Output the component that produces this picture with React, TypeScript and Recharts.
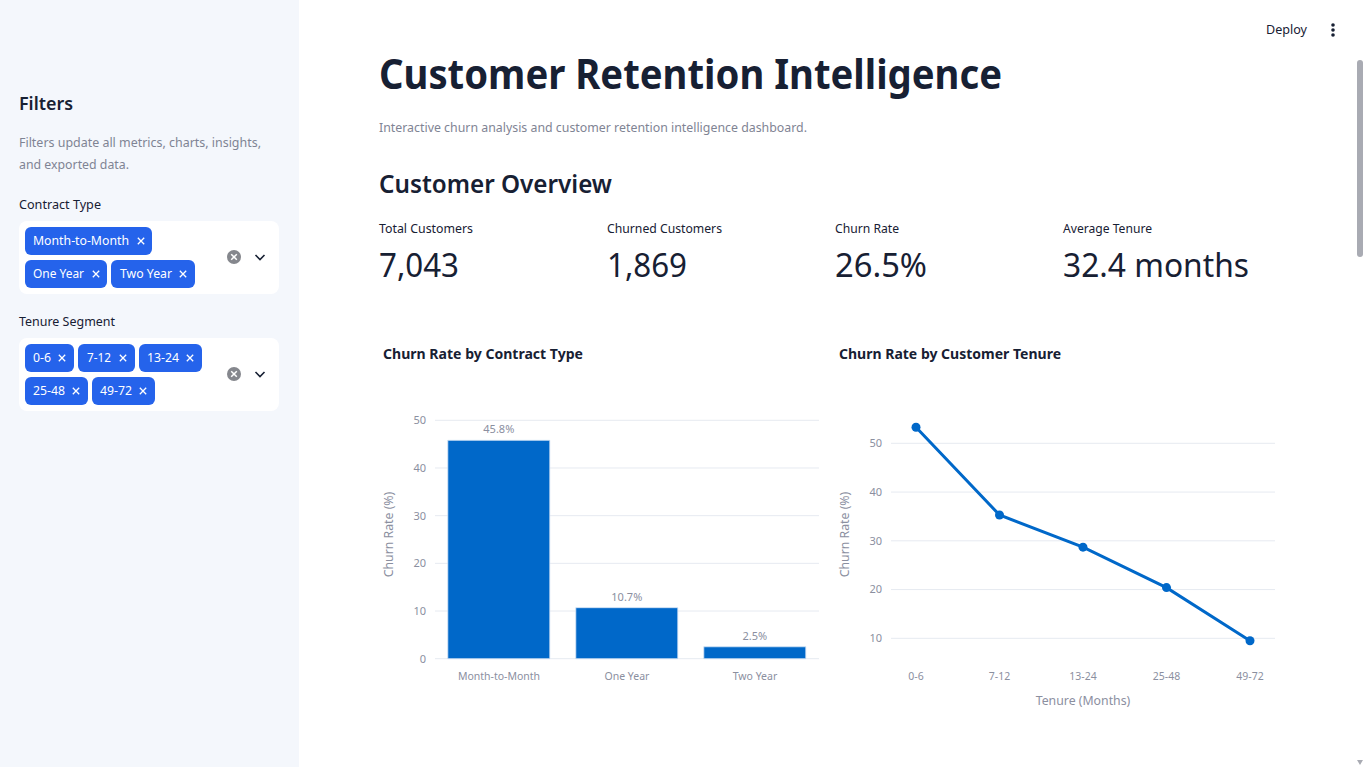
import React from "react";
import { BarChart, Bar, LineChart, Line, XAxis, YAxis, CartesianGrid, LabelList, Label } from "recharts";

const contractTypes = ["Month-to-Month", "One Year", "Two Year"];
const contractChurn = [45.8, 10.7, 2.5];
const contractTicks = [0, 10, 20, 30, 40, 50];
const tenureSegments = ["0-6", "7-12", "13-24", "25-48", "49-72"];
const tenureChurn = [53.3, 35.3, 28.7, 20.4, 9.5];
const tenureTicks = [10, 20, 30, 40, 50];

const contractData = contractTypes.map((name, i) => ({ name, churn: contractChurn[i] }));
const tenureData = tenureSegments.map((name, i) => ({ name, churn: tenureChurn[i] }));

const FONT = '"Noto Sans", sans-serif';
const DARK = "#172033";
const MUTED = "#7f8494";
const AXIS = "#8b8f9f";
const GRID = "#e6eaf1";
const BLUE = "#0068c9";
const TAG = "#2563eb";

type TP = { x: number; y: number; w?: number; s: number; b?: number; c?: string; a?: string; children: string };
const T = ({ x, y, w, s, b = 400, c = DARK, a, children }: TP) => (
  <text
    x={x}
    y={y}
    fontSize={s}
    fontWeight={b}
    fill={c}
    textAnchor={a as any}
    {...(w ? { textLength: w, lengthAdjust: "spacingAndGlyphs" } : {})}
  >
    {children}
  </text>
);

const Tag = ({ x, y, w, tx, tw, cx, label }: { x: number; y: number; w: number; tx: number; tw: number; cx: number; label: string }) => (
  <g>
    <rect x={x} y={y} width={w} height={28} rx={6} fill={TAG} />
    <T x={tx} y={y + 18} w={tw} s={13} c="#ffffff">{label}</T>
    <path d={`M${cx - 3.2} ${y + 10.8}l6.4 6.4M${cx + 3.2} ${y + 10.8}l-6.4 6.4`} stroke="#fff" strokeWidth={1.3} fill="none" />
  </g>
);

const Controls = ({ y }: { y: number }) => (
  <g>
    <circle cx={234} cy={y} r={7} fill="#85878d" />
    <path d={`M${231.2} ${y - 2.8}l5.6 5.6M${236.8} ${y - 2.8}l-5.6 5.6`} stroke="#fff" strokeWidth={1.5} />
    <path d={`M${255.5} ${y - 2}l4.5 4.5l4.5 -4.5`} stroke={DARK} strokeWidth={1.6} fill="none" />
  </g>
);

const tickStyle = { fontSize: 11, fill: AXIS, fontFamily: FONT };
const xTickStyle = { fontSize: 10.5, fill: AXIS, fontFamily: FONT };
const axisLabelStyle = { fontSize: 12.3, fill: AXIS, fontFamily: FONT, textAnchor: "middle" as const };

export default function App() {
  return (
    <div style={{ position: "fixed", left: 0, top: 0, width: 1364, height: 767, overflow: "hidden", background: "#fff", fontFamily: FONT }}>
      <svg width={1364} height={767} style={{ position: "absolute", left: 0, top: 0, fontFamily: FONT }}>
        <rect x={0} y={0} width={299} height={767} fill="#f4f7fc" />
        <T x={19} y={110} w={54} s={18.5} b={600}>Filters</T>
        <T x={19} y={147} w={242} s={13} c={MUTED}>Filters update all metrics, charts, insights,</T>
        <T x={19} y={169} w={110} s={13} c={MUTED}>and exported data.</T>
        <T x={19} y={209} w={82} s={13}>Contract Type</T>
        <rect x={19} y={221} width={260} height={73} rx={8} fill="#fff" />
        <Tag x={25} y={227} w={127} tx={33} tw={96} cx={141} label="Month-to-Month" />
        <Tag x={25} y={260} w={82} tx={33} tw={51} cx={96} label="One Year" />
        <Tag x={111} y={260} w={84} tx={120} tw={52} cx={183} label="Two Year" />
        <Controls y={257} />
        <T x={19} y={326} w={96} s={13}>Tenure Segment</T>
        <rect x={19} y={338} width={260} height={73} rx={8} fill="#fff" />
        <Tag x={25} y={344} w={49} tx={33} tw={18} cx={62} label="0-6" />
        <Tag x={78} y={344} w={57} tx={87} tw={24} cx={123} label="7-12" />
        <Tag x={139} y={344} w={63} tx={147} tw={32} cx={190} label="13-24" />
        <Tag x={25} y={377} w={63} tx={33} tw={32} cx={76} label="25-48" />
        <Tag x={92} y={377} w={63} tx={100} tw={32} cx={143} label="49-72" />
        <Controls y={374} />

        <T x={1266} y={34} w={41} s={13}>Deploy</T>
        <circle cx={1333} cy={25} r={1.8} fill={DARK} />
        <circle cx={1333} cy={30} r={1.8} fill={DARK} />
        <circle cx={1333} cy={35} r={1.8} fill={DARK} />
        <rect x={1357} y={60} width={6} height={197} rx={3} fill="#a9abb3" />
        <path d="M1357 760h6l-3 5z" fill="#a9abb3" />

        <T x={379} y={89} w={623} s={41.5} b={700}>Customer Retention Intelligence</T>
        <T x={379} y={132} w={428} s={13} c={MUTED}>Interactive churn analysis and customer retention intelligence dashboard.</T>
        <T x={379} y={193} w={233} s={26} b={600}>Customer Overview</T>

        <T x={379} y={233} w={94} s={13}>Total Customers</T>
        <T x={607} y={233} w={115} s={13}>Churned Customers</T>
        <T x={835} y={233} w={64} s={13}>Churn Rate</T>
        <T x={1063} y={233} w={89} s={13}>Average Tenure</T>
        <T x={379} y={277} w={80} s={33.5}>7,043</T>
        <T x={607} y={277} w={80} s={33.5}>1,869</T>
        <T x={835} y={277} w={92} s={33.5}>26.5%</T>
        <T x={1063} y={277} w={186} s={33.5}>32.4 months</T>

        <T x={383} y={359} w={200} s={14.5} b={700}>Churn Rate by Contract Type</T>
        <T x={839} y={359} w={222} s={14.5} b={700}>Churn Rate by Customer Tenure</T>
      </svg>

      <div style={{ position: "absolute", left: 379, top: 400 }}>
        <BarChart width={446} height={320} data={contractData} margin={{ top: 20.3, right: 6, bottom: 31.3, left: 0 }} barCategoryGap="10%">
          <CartesianGrid vertical={false} stroke={GRID} syncWithTicks />
          <XAxis dataKey="name" height={30} axisLine={false} tickLine={false} tick={xTickStyle} tickMargin={8} interval={0} />
          <YAxis width={56} domain={[0, 50]} ticks={contractTicks} axisLine={false} tickLine={false} tick={tickStyle} tickMargin={3}>
            <Label value="Churn Rate (%)" angle={-90} position="insideLeft" offset={10} dy={-5} style={axisLabelStyle} />
          </YAxis>
          <Bar dataKey="churn" fill={BLUE} stroke="#d5e4f5" strokeWidth={0.8} isAnimationActive={false}>
            <LabelList dataKey="churn" position="top" offset={7} formatter={(v: number) => `${v}%`} style={{ fontSize: 11, fill: AXIS, fontFamily: FONT }} />
          </Bar>
        </BarChart>
      </div>

      <div style={{ position: "absolute", left: 835, top: 400 }}>
        <LineChart width={446} height={320} data={tenureData} margin={{ top: 20.3, right: 6, bottom: 31.3, left: 0 }}>
          <CartesianGrid vertical={false} stroke={GRID} syncWithTicks />
          <XAxis dataKey="name" height={30} axisLine={false} tickLine={false} tick={xTickStyle} tickMargin={8} interval={0} padding={{ left: 25, right: 25 }}>
            <Label value="Tenure (Months)" position="insideBottom" offset={-16} style={axisLabelStyle} />
          </XAxis>
          <YAxis width={56} domain={[5.82, 54.72]} ticks={tenureTicks} allowDataOverflow axisLine={false} tickLine={false} tick={tickStyle} tickMargin={3}>
            <Label value="Churn Rate (%)" angle={-90} position="insideLeft" offset={10} dy={-5} style={axisLabelStyle} />
          </YAxis>
          <Line type="linear" dataKey="churn" stroke={BLUE} strokeWidth={3} dot={{ r: 4.5, fill: BLUE, stroke: BLUE, strokeWidth: 0 }} isAnimationActive={false} />
        </LineChart>
      </div>
    </div>
  );
}
